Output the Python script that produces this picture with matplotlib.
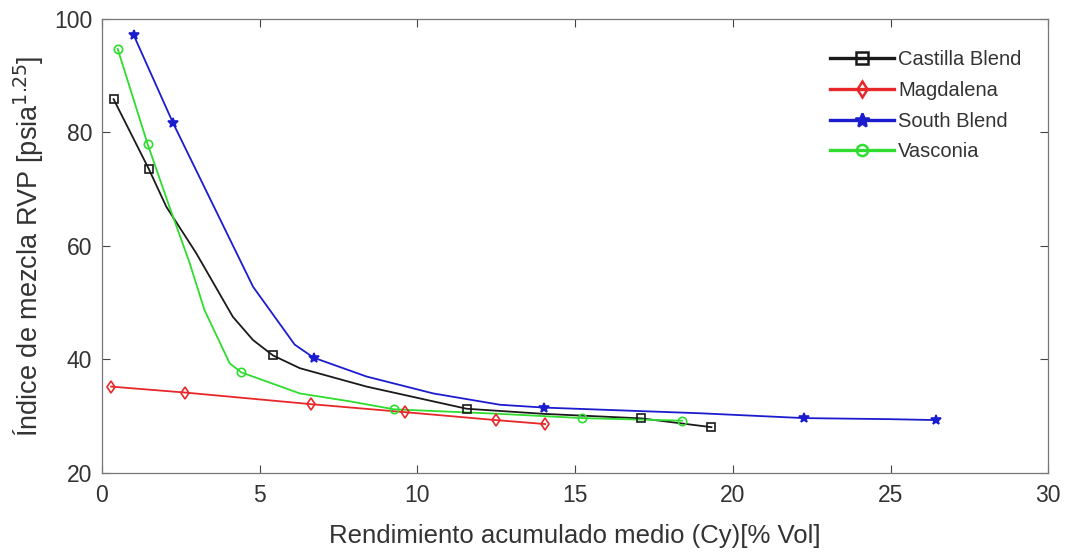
import matplotlib
matplotlib.use("Agg")
import matplotlib.pyplot as plt
from matplotlib.lines import Line2D

# ---- data ----
series_names = ["Castilla Blend", "Magdalena", "South Blend", "Vasconia"]

# marker points
castilla_x = [0.37, 1.49, 5.42, 11.56, 17.1, 19.32]
castilla_y = [85.85, 73.5, 40.7, 31.3, 29.6, 28.05]
magdalena_x = [0.29, 2.64, 6.64, 9.6, 12.48, 14.05]
magdalena_y = [35.2, 34.15, 32.1, 30.7, 29.3, 28.6]
south_x = [1.01, 2.25, 6.71, 14.02, 22.25, 26.45]
south_y = [97.1, 81.7, 40.3, 31.5, 29.65, 29.3]
vasconia_x = [0.5, 1.45, 4.42, 9.26, 15.21, 18.39]
vasconia_y = [94.7, 77.9, 37.7, 31.2, 29.65, 29.2]

# line traces (as drawn, with the intermediate points)
castilla_line_x = [0.37, 1.49, 2.04, 2.99, 4.15, 4.79, 5.42, 6.27, 8.39, 10.5, 11.56, 14.0, 17.1, 19.32]
castilla_line_y = [85.85, 73.5, 66.9, 58.7, 47.5, 43.4, 40.7, 38.45, 35.2, 32.6, 31.3, 30.4, 29.6, 28.05]
magdalena_line_x = magdalena_x
magdalena_line_y = magdalena_y
south_line_x = [1.01, 2.25, 4.79, 6.11, 6.71, 8.39, 10.5, 12.62, 14.02, 18.97, 22.25, 25.0, 26.45]
south_line_y = [97.1, 81.7, 52.8, 42.6, 40.3, 36.97, 34.0, 32.0, 31.5, 30.5, 29.65, 29.46, 29.3]
vasconia_line_x = [0.5, 1.45, 2.14, 2.78, 3.25, 4.05, 4.42, 6.27, 7.86, 9.26, 12.6, 15.21, 18.39]
vasconia_line_y = [94.7, 77.9, 66.9, 57.0, 48.7, 39.3, 37.7, 34.0, 32.6, 31.2, 30.4, 29.65, 29.2]

x_ticks = [0, 5, 10, 15, 20, 25, 30]
y_ticks = [20, 40, 60, 80, 100]

colors = ["#1a1a1a", "#e8272a", "#1c1ccf", "#2fdc2f"]
markers = ["s", "d", "*", "o"]
mfill = ["none", "none", None, "none"]

plt.rcParams['font.family'] = ['Liberation Sans', 'DejaVu Sans']

fig = plt.figure(figsize=(10.73, 5.55), dpi=100)
ax = fig.add_axes([0.095, 0.148, 0.882, 0.818])

lines_x = [castilla_line_x, magdalena_line_x, south_line_x, vasconia_line_x]
lines_y = [castilla_line_y, magdalena_line_y, south_line_y, vasconia_line_y]
pts_x = [castilla_x, magdalena_x, south_x, vasconia_x]
pts_y = [castilla_y, magdalena_y, south_y, vasconia_y]

handles = []
for i, name in enumerate(series_names):
    ax.plot(lines_x[i], lines_y[i], color=colors[i], lw=1.3, zorder=2)
    kw = dict(marker=markers[i], color=colors[i], ls="none", zorder=3,
              markersize=6 if markers[i] != "*" else 7, markeredgewidth=1.2)
    if mfill[i] == "none":
        kw["markerfacecolor"] = "none"
    ax.plot(pts_x[i], pts_y[i], **kw)
    hkw = dict(kw)
    hkw["ls"] = "-"
    hkw["lw"] = 2.4
    hkw["markersize"] = 8 if markers[i] != "*" else 10
    hkw["markeredgewidth"] = 1.8
    handles.append(Line2D([], [], label=name, **hkw))

ax.set_xlim(0, 30)
ax.set_ylim(20, 100)
ax.set_xticks(x_ticks)
ax.set_yticks(y_ticks)
ax.tick_params(direction="in", top=True, right=True, length=6, width=0.8,
               colors="#444444", labelsize=16.5, labelcolor="#333333")
ax.tick_params(axis="x", pad=8)
ax.tick_params(axis="y", pad=7)
for s in ax.spines.values():
    s.set_color("#777777")
    s.set_linewidth(0.9)

ax.set_xlabel("Rendimiento acumulado medio (Cy)[% Vol]", fontsize=18.5, color="#333333", labelpad=12)
ax.set_ylabel("Índice de mezcla RVP [psia$^{1.25}$]", fontsize=19.5, color="#333333", labelpad=6)

leg = ax.legend(handles=handles, loc="upper right", bbox_to_anchor=(0.993, 0.975),
                frameon=False, fontsize=14.5, handlelength=3.2, handletextpad=0.2,
                labelspacing=0.58, borderaxespad=0.6)
for t in leg.get_texts():
    t.set_color("#333333")

fig.savefig("out.png", dpi=100)
